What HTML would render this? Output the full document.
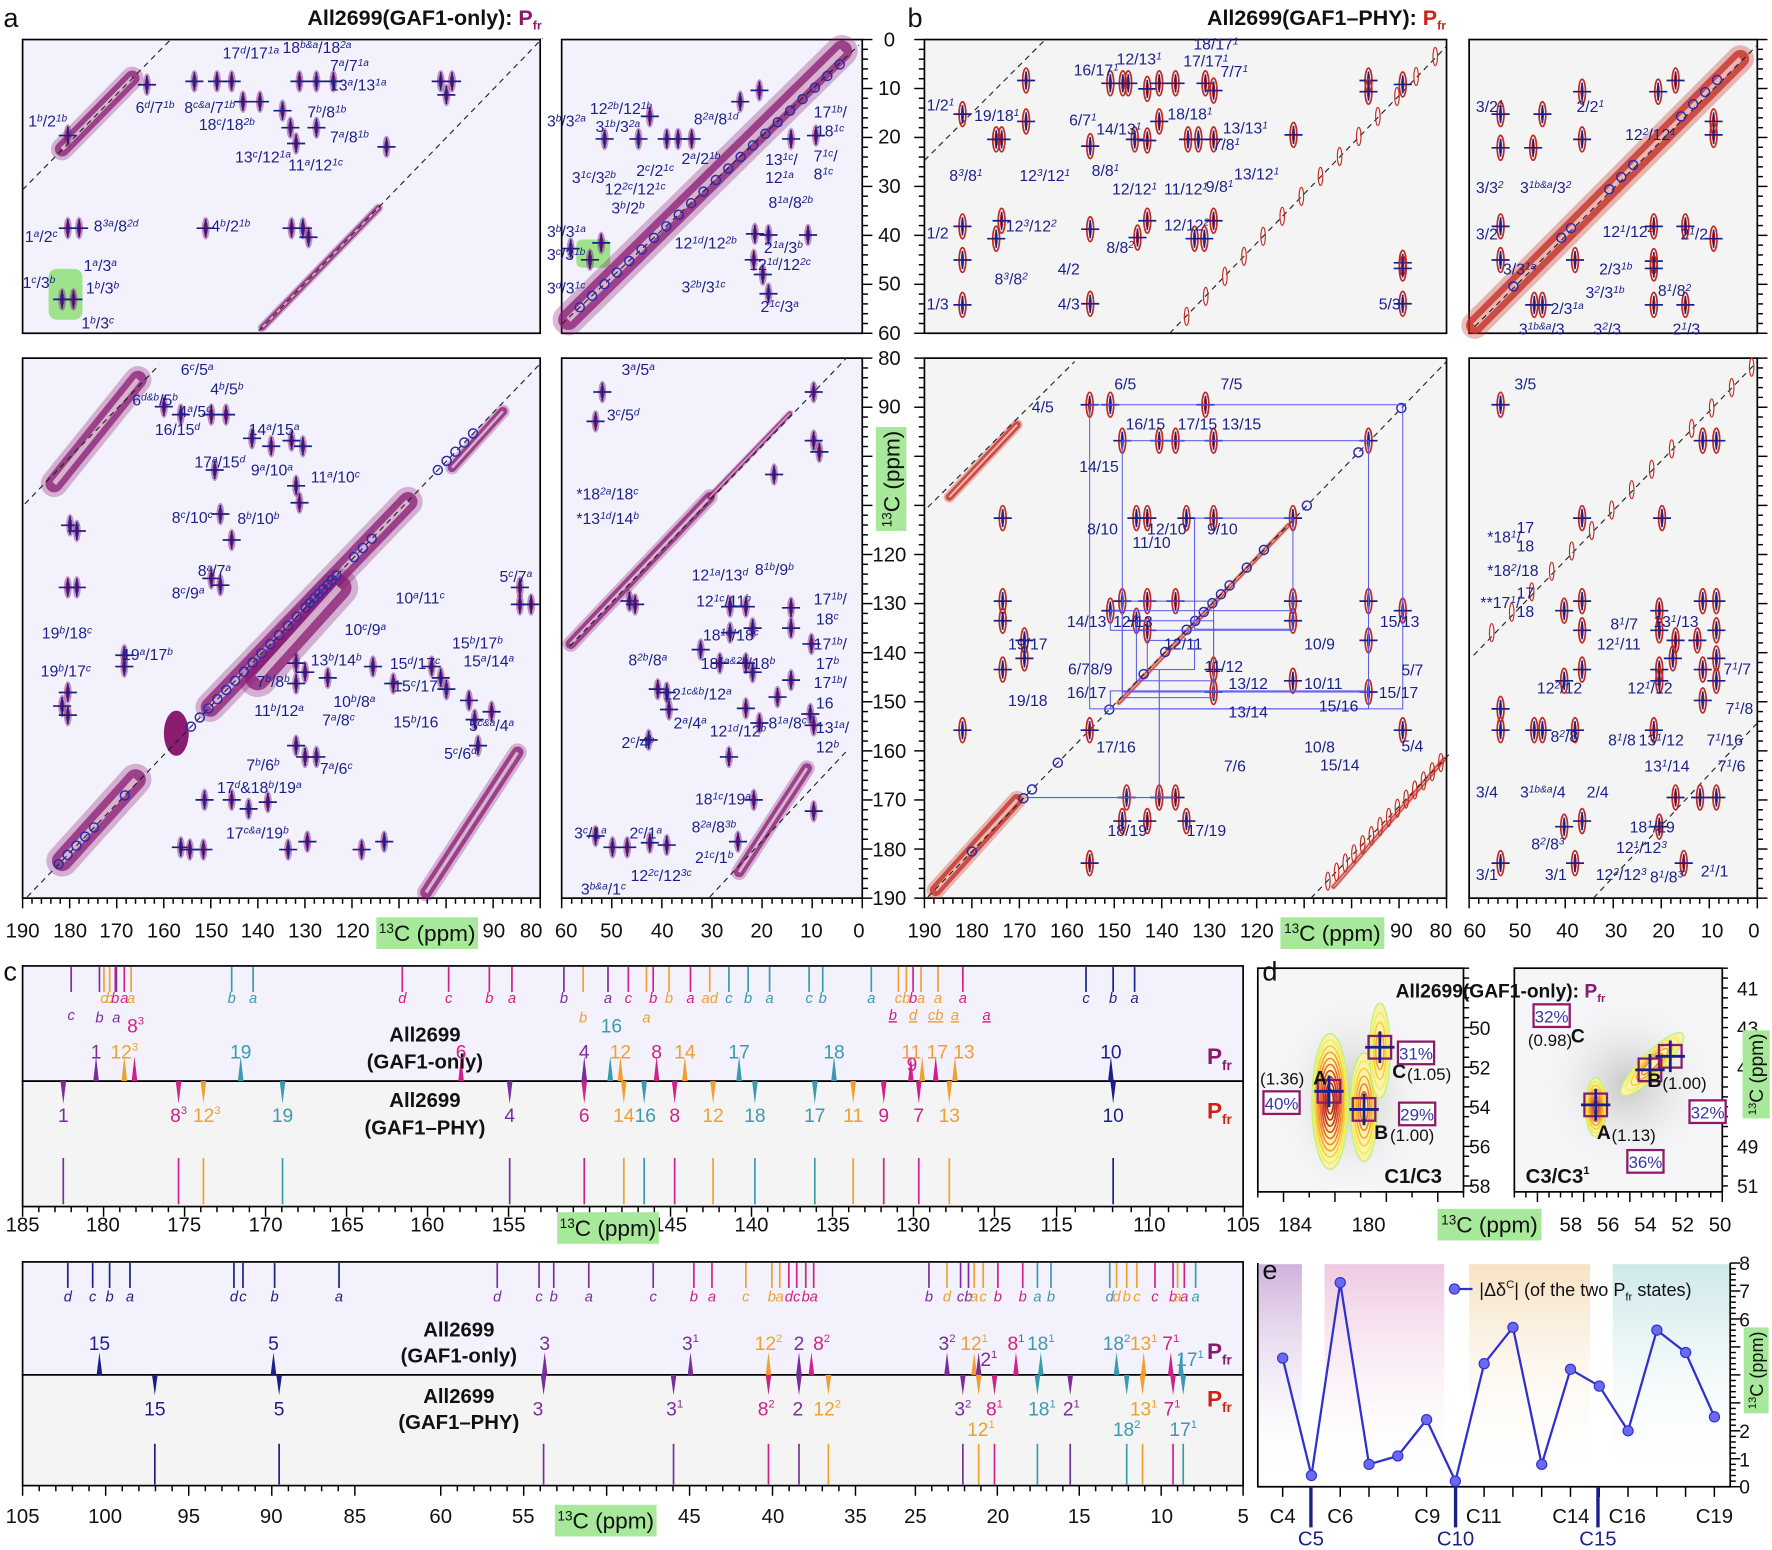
<!DOCTYPE html>
<html><head><meta charset="utf-8">
<style>
html,body{margin:0;padding:0;background:#fff;}
svg{display:block;font-family:"Liberation Sans Narrow","Liberation Sans",sans-serif;}
.l{fill:#1b1f8a;font-size:14px;}
.s{font-size:9px;baseline-shift:super;font-style:italic;}
.t{font-size:18px;fill:#111;}
.b{font-weight:bold;}
.big{font-size:24px;fill:#111;}
</style></head><body>
<svg id="S" width="1772" height="1550" viewBox="0 0 1568 1372" preserveAspectRatio="none" xmlns="http://www.w3.org/2000/svg">
<defs>
<radialGradient id="rg"><stop offset="0" stop-color="#bbb" stop-opacity=".8"/><stop offset="1" stop-color="#f4f4f4" stop-opacity="0"/></radialGradient>
<linearGradient id="ep" x1="0" y1="0" x2="0" y2="1"><stop offset="0" stop-color="#cfb2dc"/><stop offset="1" stop-color="#fff" stop-opacity="0"/></linearGradient>
<linearGradient id="ek" x1="0" y1="0" x2="0" y2="1"><stop offset="0" stop-color="#efc9e2"/><stop offset="1" stop-color="#fff" stop-opacity="0"/></linearGradient>
<linearGradient id="eo" x1="0" y1="0" x2="0" y2="1"><stop offset="0" stop-color="#f7e2c2"/><stop offset="1" stop-color="#fff" stop-opacity="0"/></linearGradient>
<linearGradient id="et" x1="0" y1="0" x2="0" y2="1"><stop offset="0" stop-color="#cde8ea"/><stop offset="1" stop-color="#fff" stop-opacity="0"/></linearGradient>
</defs>
<g stroke="#000" stroke-width="1.5">
<rect x="20" y="35" width="458" height="260" fill="#f3f2fc"/>
<rect x="497" y="35" width="266" height="260" fill="#f3f2fc"/>
<rect x="20" y="317" width="458" height="478" fill="#f3f2fc"/>
<rect x="497" y="317" width="266" height="478" fill="#f3f2fc"/>
<rect x="818" y="35" width="462" height="260" fill="#f4f4f4"/>
<rect x="1300" y="35" width="255" height="260" fill="#f4f4f4"/>
<rect x="818" y="317" width="462" height="478" fill="#f4f4f4"/>
<rect x="1300" y="317" width="255" height="478" fill="#f4f4f4"/>
<rect x="20" y="855" width="1080" height="102" fill="#f3f2fc"/>
<rect x="20" y="957" width="1080" height="111" fill="#f4f4f4"/>
<rect x="20" y="1117" width="1080" height="100" fill="#f3f2fc"/>
<rect x="20" y="1217" width="1080" height="98" fill="#f4f4f4"/>
<rect x="1113" y="857" width="182" height="198" fill="#f6f6f8"/>
<rect x="1340" y="857" width="184" height="198" fill="#f6f6f8"/>
</g>
<rect x="1114" y="1119" width="38" height="197" fill="url(#ep)"/>
<rect x="1172" y="1119" width="106" height="197" fill="url(#ek)"/>
<rect x="1300" y="1119" width="107" height="197" fill="url(#eo)"/>
<rect x="1427" y="1119" width="104" height="197" fill="url(#et)"/>
<path d="M1113 1118 V1316 H1531 V1118" fill="none" stroke="#000" stroke-width="1.5"/>
<ellipse cx="1195" cy="970" rx="70" ry="95" fill="url(#rg)"/>
<ellipse cx="1440" cy="960" rx="80" ry="80" fill="url(#rg)"/>
<rect x="43" y="238" width="30" height="45" rx="7" fill="#9ee28e"/>
<rect x="510" y="212" width="30" height="25" rx="5" fill="#9ee28e"/>
<g id="gen"></g>

<text x="3" y="24" class="big">a</text>
<text x="803" y="24" class="big">b</text>
<text x="272" y="22" font-size="19" class="b" fill="#111">All2699(GAF1-only): <tspan fill="#8b1a6b">P<tspan font-size="11" dy="4">fr</tspan></tspan></text>
<text x="1068" y="22" font-size="19" class="b" fill="#111">All2699(GAF1–PHY): <tspan fill="#d0201a">P<tspan font-size="11" dy="4">fr</tspan></tspan></text>

<g class="t" text-anchor="middle">
<text x="787" y="41">0</text><text x="787" y="84">10</text><text x="787" y="127">20</text><text x="787" y="171">30</text><text x="787" y="214">40</text><text x="787" y="257">50</text><text x="787" y="301">60</text>
<text x="787" y="323">80</text><text x="787" y="366">90</text><text x="787" y="540">130</text><text x="787" y="584">140</text><text x="787" y="627">150</text><text x="787" y="671">160</text><text x="787" y="714">170</text><text x="787" y="758">180</text><text x="787" y="801">190</text>
<text x="787" y="497">120</text>
</g>
<rect x="775" y="378" width="27" height="92" fill="#a8e89a"/>
<text transform="translate(796,424) rotate(-90)" text-anchor="middle" font-size="20" fill="#111"><tspan font-size="12" dy="-7">13</tspan><tspan dy="7">C (ppm)</tspan></text>

<g class="t" text-anchor="middle">
<text x="20" y="830">190</text><text x="62" y="830">180</text><text x="103" y="830">170</text><text x="145" y="830">160</text><text x="187" y="830">150</text><text x="228" y="830">140</text><text x="270" y="830">130</text><text x="312" y="830">120</text><text x="437" y="830">90</text><text x="470" y="830">80</text>
<text x="501" y="830">60</text><text x="541" y="830">50</text><text x="586" y="830">40</text><text x="630" y="830">30</text><text x="674" y="830">20</text><text x="718" y="830">10</text><text x="760" y="830">0</text>
<text x="818" y="830">190</text><text x="860" y="830">180</text><text x="902" y="830">170</text><text x="944" y="830">160</text><text x="986" y="830">150</text><text x="1028" y="830">140</text><text x="1070" y="830">130</text><text x="1112" y="830">120</text><text x="1240" y="830">90</text><text x="1275" y="830">80</text>
<text x="1305" y="830">60</text><text x="1345" y="830">50</text><text x="1387" y="830">40</text><text x="1430" y="830">30</text><text x="1472" y="830">20</text><text x="1515" y="830">10</text><text x="1552" y="830">0</text>
</g>
<rect x="333" y="812" width="90" height="28" fill="#a8e89a"/>
<text x="378" y="833" text-anchor="middle" font-size="20" fill="#111"><tspan font-size="12" dy="-7">13</tspan><tspan dy="7">C (ppm)</tspan></text>
<rect x="1133" y="812" width="92" height="28" fill="#a8e89a"/>
<text x="1179" y="833" text-anchor="middle" font-size="20" fill="#111"><tspan font-size="12" dy="-7">13</tspan><tspan dy="7">C (ppm)</tspan></text>

<g class="l">
<text x="197" y="52">17<tspan class="s">d</tspan>/17<tspan class="s">1a</tspan></text>
<text x="250" y="47">18<tspan class="s">b&amp;a</tspan>/18<tspan class="s">2a</tspan></text>
<text x="292" y="63">7<tspan class="s">a</tspan>/7<tspan class="s">1a</tspan></text>
<text x="292" y="80">13<tspan class="s">a</tspan>/13<tspan class="s">1a</tspan></text>
<text x="120" y="100">6<tspan class="s">d</tspan>/7<tspan class="s">1b</tspan></text>
<text x="163" y="100">8<tspan class="s">c&amp;a</tspan>/7<tspan class="s">1b</tspan></text>
<text x="25" y="112">1<tspan class="s">b</tspan>/2<tspan class="s">1b</tspan></text>
<text x="176" y="115">18<tspan class="s">c</tspan>/18<tspan class="s">2b</tspan></text>
<text x="272" y="104">7<tspan class="s">b</tspan>/8<tspan class="s">1b</tspan></text>
<text x="292" y="126">7<tspan class="s">a</tspan>/8<tspan class="s">1b</tspan></text>
<text x="208" y="144">13<tspan class="s">c</tspan>/12<tspan class="s">1a</tspan></text>
<text x="255" y="151">11<tspan class="s">a</tspan>/12<tspan class="s">1c</tspan></text>
<text x="83" y="205">8<tspan class="s">3a</tspan>/8<tspan class="s">2d</tspan></text>
<text x="187" y="205">4<tspan class="s">b</tspan>/2<tspan class="s">1b</tspan></text>
<text x="22" y="214">1<tspan class="s">a</tspan>/2<tspan class="s">c</tspan></text>
<text x="74" y="240">1<tspan class="s">a</tspan>/3<tspan class="s">a</tspan></text>
<text x="20" y="255">1<tspan class="s">c</tspan>/3<tspan class="s">b</tspan></text>
<text x="76" y="260">1<tspan class="s">b</tspan>/3<tspan class="s">b</tspan></text>
<text x="72" y="291">1<tspan class="s">b</tspan>/3<tspan class="s">c</tspan></text>

<text x="484" y="112">3<tspan class="s">b</tspan>/3<tspan class="s">2a</tspan></text>
<text x="522" y="101">12<tspan class="s">2b</tspan>/12<tspan class="s">1b</tspan></text>
<text x="527" y="117">3<tspan class="s">1b</tspan>/3<tspan class="s">2a</tspan></text>
<text x="614" y="110">8<tspan class="s">2a</tspan>/8<tspan class="s">1d</tspan></text>
<text x="720" y="104">17<tspan class="s">1b</tspan>/</text><text x="722" y="121">18<tspan class="s">1c</tspan></text>
<text x="506" y="162">3<tspan class="s">1c</tspan>/3<tspan class="s">2b</tspan></text>
<text x="563" y="156">2<tspan class="s">c</tspan>/2<tspan class="s">1c</tspan></text>
<text x="603" y="145">2<tspan class="s">a</tspan>/2<tspan class="s">1b</tspan></text>
<text x="677" y="146">13<tspan class="s">1c</tspan>/</text><text x="677" y="162">12<tspan class="s">1a</tspan></text>
<text x="720" y="143">7<tspan class="s">1c</tspan>/</text><text x="720" y="159">8<tspan class="s">1c</tspan></text>
<text x="535" y="172">12<tspan class="s">2c</tspan>/12<tspan class="s">1c</tspan></text>
<text x="541" y="189">3<tspan class="s">b</tspan>/2<tspan class="s">b</tspan></text>
<text x="680" y="184">8<tspan class="s">1a</tspan>/8<tspan class="s">2b</tspan></text>
<text x="484" y="210">3<tspan class="s">b</tspan>/3<tspan class="s">1a</tspan></text>
<text x="484" y="230">3<tspan class="s">c</tspan>/3<tspan class="s">1b</tspan></text>
<text x="676" y="224">2<tspan class="s">1a</tspan>/3<tspan class="s">b</tspan></text>
<text x="597" y="220">12<tspan class="s">1d</tspan>/12<tspan class="s">2b</tspan></text>
<text x="663" y="239">12<tspan class="s">1d</tspan>/12<tspan class="s">2c</tspan></text>
<text x="484" y="260">3<tspan class="s">d</tspan>/3<tspan class="s">1c</tspan></text>
<text x="603" y="259">3<tspan class="s">2b</tspan>/3<tspan class="s">1c</tspan></text>
<text x="673" y="276">2<tspan class="s">1c</tspan>/3<tspan class="s">a</tspan></text>

<text x="160" y="332">6<tspan class="s">c</tspan>/5<tspan class="s">a</tspan></text>
<text x="186" y="349">4<tspan class="s">b</tspan>/5<tspan class="s">b</tspan></text>
<text x="117" y="359">6<tspan class="s">d&amp;b</tspan>/5<tspan class="s">b</tspan></text>
<text x="158" y="369">4<tspan class="s">a</tspan>/5<tspan class="s">d</tspan></text>
<text x="220" y="385">14<tspan class="s">a</tspan>/15<tspan class="s">a</tspan></text>
<text x="137" y="385">16/15<tspan class="s">d</tspan></text>
<text x="172" y="414">17<tspan class="s">a</tspan>/15<tspan class="s">d</tspan></text>
<text x="222" y="421">9<tspan class="s">a</tspan>/10<tspan class="s">a</tspan></text>
<text x="275" y="427">11<tspan class="s">a</tspan>/10<tspan class="s">c</tspan></text>
<text x="152" y="463">8<tspan class="s">c</tspan>/10<tspan class="s">c</tspan></text>
<text x="210" y="464">8<tspan class="s">b</tspan>/10<tspan class="s">b</tspan></text>
<text x="175" y="510">8<tspan class="s">a</tspan>/7<tspan class="s">a</tspan></text>
<text x="152" y="530">8<tspan class="s">c</tspan>/9<tspan class="s">a</tspan></text>
<text x="442" y="515">5<tspan class="s">c</tspan>/7<tspan class="s">a</tspan></text>
<text x="350" y="534">10<tspan class="s">a</tspan>/11<tspan class="s">c</tspan></text>
<text x="305" y="562">10<tspan class="s">c</tspan>/9<tspan class="s">a</tspan></text>
<text x="37" y="565">19<tspan class="s">b</tspan>/18<tspan class="s">c</tspan></text>
<text x="108" y="584">19<tspan class="s">a</tspan>/17<tspan class="s">b</tspan></text>
<text x="36" y="599">19<tspan class="s">b</tspan>/17<tspan class="s">c</tspan></text>
<text x="400" y="574">15<tspan class="s">b</tspan>/17<tspan class="s">b</tspan></text>
<text x="275" y="589">13<tspan class="s">b</tspan>/14<tspan class="s">b</tspan></text>
<text x="345" y="592">15<tspan class="s">d</tspan>/17<tspan class="s">c</tspan></text>
<text x="410" y="590">15<tspan class="s">a</tspan>/14<tspan class="s">a</tspan></text>
<text x="227" y="608">7<tspan class="s">b</tspan>/8<tspan class="s">b</tspan></text>
<text x="348" y="612">15<tspan class="s">c</tspan>/17</text>
<text x="295" y="626">10<tspan class="s">b</tspan>/8<tspan class="s">a</tspan></text>
<text x="225" y="634">11<tspan class="s">b</tspan>/12<tspan class="s">a</tspan></text>
<text x="285" y="642">7<tspan class="s">a</tspan>/8<tspan class="s">c</tspan></text>
<text x="348" y="644">15<tspan class="s">b</tspan>/16</text>
<text x="415" y="647">5<tspan class="s">c&amp;a</tspan>/4<tspan class="s">a</tspan></text>
<text x="393" y="672">5<tspan class="s">c</tspan>/6<tspan class="s">d</tspan></text>
<text x="218" y="682">7<tspan class="s">b</tspan>/6<tspan class="s">b</tspan></text>
<text x="283" y="685">7<tspan class="s">a</tspan>/6<tspan class="s">c</tspan></text>
<text x="192" y="702">17<tspan class="s">d</tspan>&amp;18<tspan class="s">b</tspan>/19<tspan class="s">a</tspan></text>
<text x="200" y="742">17<tspan class="s">c&amp;a</tspan>/19<tspan class="s">b</tspan></text>

<text x="550" y="332">3<tspan class="s">a</tspan>/5<tspan class="s">a</tspan></text>
<text x="537" y="372">3<tspan class="s">c</tspan>/5<tspan class="s">d</tspan></text>
<text x="510" y="442">*18<tspan class="s">2a</tspan>/18<tspan class="s">c</tspan></text>
<text x="510" y="464">*13<tspan class="s">1d</tspan>/14<tspan class="s">b</tspan></text>
<text x="612" y="514">12<tspan class="s">1a</tspan>/13<tspan class="s">d</tspan></text>
<text x="668" y="509">8<tspan class="s">1b</tspan>/9<tspan class="s">b</tspan></text>
<text x="616" y="537">12<tspan class="s">1c</tspan>/11<tspan class="s">b</tspan></text>
<text x="720" y="535">17<tspan class="s">1b</tspan>/</text><text x="722" y="553">18<tspan class="s">c</tspan></text>
<text x="622" y="567">18<tspan class="s">1a</tspan>/18<tspan class="s">c</tspan></text>
<text x="720" y="575">17<tspan class="s">1b</tspan>/</text><text x="722" y="592">17<tspan class="s">b</tspan></text>
<text x="556" y="589">8<tspan class="s">2b</tspan>/8<tspan class="s">a</tspan></text>
<text x="620" y="592">18<tspan class="s">1a&amp;2b</tspan>/18<tspan class="s">b</tspan></text>
<text x="720" y="609">17<tspan class="s">1b</tspan>/</text><text x="722" y="627">16</text>
<text x="587" y="619">12<tspan class="s">1c&amp;b</tspan>/12<tspan class="s">a</tspan></text>
<text x="550" y="662">2<tspan class="s">c</tspan>/4<tspan class="s">b</tspan></text>
<text x="596" y="645">2<tspan class="s">a</tspan>/4<tspan class="s">a</tspan></text>
<text x="628" y="652">12<tspan class="s">1d</tspan>/12<tspan class="s">b</tspan></text>
<text x="680" y="645">8<tspan class="s">1a</tspan>/8<tspan class="s">c</tspan></text>
<text x="722" y="649">13<tspan class="s">1a</tspan>/</text><text x="722" y="666">12<tspan class="s">b</tspan></text>
<text x="615" y="712">18<tspan class="s">1c</tspan>/19<tspan class="s">a</tspan></text>
<text x="508" y="742">3<tspan class="s">c</tspan>/1<tspan class="s">a</tspan></text>
<text x="557" y="742">2<tspan class="s">c</tspan>/1<tspan class="s">a</tspan></text>
<text x="612" y="737">8<tspan class="s">2a</tspan>/8<tspan class="s">3b</tspan></text>
<text x="615" y="764">2<tspan class="s">1c</tspan>/1<tspan class="s">b</tspan></text>
<text x="514" y="792">3<tspan class="s">b&amp;a</tspan>/1<tspan class="s">c</tspan></text>
<text x="558" y="780">12<tspan class="s">2c</tspan>/12<tspan class="s">3c</tspan></text>
</g>

<g class="l">
<text x="1056" y="44">18/17<tspan class="s">1</tspan></text>
<text x="950" y="67">16/17<tspan class="s">1</tspan></text>
<text x="988" y="57">12/13<tspan class="s">1</tspan></text>
<text x="1047" y="59">17/17<tspan class="s">1</tspan></text>
<text x="1080" y="68">7/7<tspan class="s">1</tspan></text>
<text x="820" y="98">1/2<tspan class="s">1</tspan></text>
<text x="946" y="111">6/7<tspan class="s">1</tspan></text>
<text x="970" y="119">14/13<tspan class="s">1</tspan></text>
<text x="862" y="107">19/18<tspan class="s">1</tspan></text>
<text x="1033" y="106">18/18<tspan class="s">1</tspan></text>
<text x="1082" y="118">13/13<tspan class="s">1</tspan></text>
<text x="840" y="160">8<tspan class="s">3</tspan>/8<tspan class="s">1</tspan></text>
<text x="902" y="160">12<tspan class="s">3</tspan>/12<tspan class="s">1</tspan></text>
<text x="1073" y="133">7/8<tspan class="s">1</tspan></text>
<text x="966" y="156">8/8<tspan class="s">1</tspan></text>
<text x="984" y="172">12/12<tspan class="s">1</tspan></text>
<text x="1030" y="172">11/12<tspan class="s">1</tspan></text>
<text x="1067" y="170">9/8<tspan class="s">1</tspan></text>
<text x="1092" y="159">13/12<tspan class="s">1</tspan></text>
<text x="890" y="205">12<tspan class="s">3</tspan>/12<tspan class="s">2</tspan></text>
<text x="1030" y="204">12/12<tspan class="s">2</tspan></text>
<text x="820" y="211">1/2</text>
<text x="979" y="224">8/8<tspan class="s">2</tspan></text>
<text x="880" y="252">8<tspan class="s">3</tspan>/8<tspan class="s">2</tspan></text>
<text x="936" y="243">4/2</text>
<text x="820" y="274">1/3</text>
<text x="936" y="274">4/3</text>
<text x="1220" y="274">5/3</text>

<text x="1306" y="99">3/2<tspan class="s">1</tspan></text>
<text x="1395" y="99">2/2<tspan class="s">1</tspan></text>
<text x="1438" y="124">12<tspan class="s">2</tspan>/12<tspan class="s">1</tspan></text>
<text x="1306" y="171">3/3<tspan class="s">2</tspan></text>
<text x="1345" y="171">3<tspan class="s">1b&amp;a</tspan>/3<tspan class="s">2</tspan></text>
<text x="1306" y="212">3/2</text>
<text x="1418" y="210">12<tspan class="s">1</tspan>/12<tspan class="s">2</tspan></text>
<text x="1487" y="212">2<tspan class="s">1</tspan>/2</text>
<text x="1330" y="243">3/3<tspan class="s">1a</tspan></text>
<text x="1415" y="243">2/3<tspan class="s">1b</tspan></text>
<text x="1467" y="262">8<tspan class="s">1</tspan>/8<tspan class="s">2</tspan></text>
<text x="1403" y="264">3<tspan class="s">2</tspan>/3<tspan class="s">1b</tspan></text>
<text x="1372" y="278">2/3<tspan class="s">1a</tspan></text>
<text x="1344" y="296">3<tspan class="s">1b&amp;a</tspan>/3</text>
<text x="1410" y="296">3<tspan class="s">2</tspan>/3</text>
<text x="1480" y="296">2<tspan class="s">1</tspan>/3</text>

<text x="986" y="345">6/5</text>
<text x="1080" y="345">7/5</text>
<text x="913" y="365">4/5</text>
<text x="996" y="380">16/15</text>
<text x="1042" y="380">17/15</text>
<text x="1081" y="380">13/15</text>
<text x="955" y="418">14/15</text>
<text x="962" y="473">8/10</text>
<text x="1015" y="473">12/10</text>
<text x="1068" y="473">9/10</text>
<text x="1002" y="485">11/10</text>
<text x="944" y="555">14/13</text>
<text x="985" y="555">12/13</text>
<text x="1221" y="555">15/13</text>
<text x="892" y="575">19/17</text>
<text x="945" y="597">6/7</text>
<text x="965" y="597">8/9</text>
<text x="1030" y="575">12/11</text>
<text x="1066" y="595">11/12</text>
<text x="1154" y="575">10/9</text>
<text x="1240" y="598">5/7</text>
<text x="944" y="618">16/17</text>
<text x="1087" y="610">13/12</text>
<text x="1154" y="610">10/11</text>
<text x="1220" y="618">15/17</text>
<text x="892" y="625">19/18</text>
<text x="1087" y="635">13/14</text>
<text x="1167" y="630">15/16</text>
<text x="970" y="666">17/16</text>
<text x="1154" y="666">10/8</text>
<text x="1240" y="665">5/4</text>
<text x="1083" y="683">7/6</text>
<text x="1168" y="682">15/14</text>
<text x="980" y="740">18/19</text>
<text x="1050" y="740">17/19</text>

<text x="1340" y="345">3/5</text>
<text x="1316" y="480">*18<tspan class="s">1</tspan>/</text><text x="1342" y="472">17</text><text x="1342" y="488">18</text>
<text x="1316" y="510">*18<tspan class="s">2</tspan>/18</text>
<text x="1310" y="538">**17<tspan class="s">1</tspan>/</text><text x="1342" y="530">17</text><text x="1342" y="546">18</text>
<text x="1463" y="555">13<tspan class="s">1</tspan>/13</text>
<text x="1425" y="557">8<tspan class="s">1</tspan>/7</text>
<text x="1413" y="575">12<tspan class="s">1</tspan>/11</text>
<text x="1525" y="597">7<tspan class="s">1</tspan>/7</text>
<text x="1360" y="614">12<tspan class="s">2</tspan>/12</text>
<text x="1440" y="614">12<tspan class="s">1</tspan>/12</text>
<text x="1527" y="632">7<tspan class="s">1</tspan>/8</text>
<text x="1372" y="657">8<tspan class="s">2</tspan>/8</text>
<text x="1423" y="660">8<tspan class="s">1</tspan>/8</text>
<text x="1450" y="660">13<tspan class="s">1</tspan>/12</text>
<text x="1510" y="660">7<tspan class="s">1</tspan>/16</text>
<text x="1455" y="683">13<tspan class="s">1</tspan>/14</text>
<text x="1520" y="683">7<tspan class="s">1</tspan>/6</text>
<text x="1306" y="706">3/4</text>
<text x="1345" y="706">3<tspan class="s">1b&amp;a</tspan>/4</text>
<text x="1404" y="706">2/4</text>
<text x="1442" y="737">18<tspan class="s">1</tspan>/19</text>
<text x="1430" y="755">12<tspan class="s">1</tspan>/12<tspan class="s">3</tspan></text>
<text x="1355" y="752">8<tspan class="s">2</tspan>/8<tspan class="s">3</tspan></text>
<text x="1306" y="779">3/1</text>
<text x="1367" y="779">3/1</text>
<text x="1412" y="779">12<tspan class="s">2</tspan>/12<tspan class="s">3</tspan></text>
<text x="1460" y="781">8<tspan class="s">1</tspan>/8<tspan class="s">3</tspan></text>
<text x="1505" y="776">2<tspan class="s">1</tspan>/1</text>
</g>

<text x="3" y="868" class="big">c</text>
<g class="t" text-anchor="middle">
<text x="20" y="1090">185</text><text x="91" y="1090">180</text><text x="163" y="1090">175</text><text x="235" y="1090">170</text><text x="307" y="1090">165</text><text x="378" y="1090">160</text><text x="450" y="1090">155</text><text x="593" y="1090">145</text><text x="665" y="1090">140</text><text x="737" y="1090">135</text><text x="808" y="1090">130</text><text x="880" y="1090">125</text><text x="935" y="1090">115</text><text x="1017" y="1090">110</text><text x="1100" y="1090">105</text>
<text x="20" y="1348">105</text><text x="93" y="1348">100</text><text x="167" y="1348">95</text><text x="240" y="1348">90</text><text x="314" y="1348">85</text><text x="390" y="1348">60</text><text x="463" y="1348">55</text><text x="610" y="1348">45</text><text x="684" y="1348">40</text><text x="757" y="1348">35</text><text x="810" y="1348">25</text><text x="883" y="1348">20</text><text x="955" y="1348">15</text><text x="1028" y="1348">10</text><text x="1100" y="1348">5</text>
</g>
<rect x="493" y="1073" width="90" height="28" fill="#a8e89a"/>
<text x="538" y="1094" text-anchor="middle" font-size="20" fill="#111"><tspan font-size="12" dy="-7">13</tspan><tspan dy="7">C (ppm)</tspan></text>
<rect x="491" y="1332" width="90" height="28" fill="#a8e89a"/>
<text x="536" y="1353" text-anchor="middle" font-size="20" fill="#111"><tspan font-size="12" dy="-7">13</tspan><tspan dy="7">C (ppm)</tspan></text>
<g font-size="18" font-weight="bold" fill="#111" text-anchor="middle">
<text x="376" y="922">All2699</text><text x="376" y="946">(GAF1-only)</text>
<text x="376" y="980">All2699</text><text x="376" y="1004">(GAF1–PHY)</text>
<text x="406" y="1183">All2699</text><text x="406" y="1206">(GAF1-only)</text>
<text x="406" y="1242">All2699</text><text x="406" y="1265">(GAF1–PHY)</text>
</g>
<g font-size="20" font-weight="bold">
<text x="1068" y="942" fill="#8b1a6b">P<tspan font-size="12" dy="5">fr</tspan></text>
<text x="1068" y="990" fill="#d0201a">P<tspan font-size="12" dy="5">fr</tspan></text>
<text x="1068" y="1203" fill="#8b1a6b">P<tspan font-size="12" dy="5">fr</tspan></text>
<text x="1068" y="1245" fill="#d0201a">P<tspan font-size="12" dy="5">fr</tspan></text>
</g>
<g font-size="17" text-anchor="middle">
<text x="85" y="937" fill="#7b2d9b">1</text><text x="110" y="937" fill="#f0a030">12<tspan font-size="10" dy="-7">3</tspan></text><text x="120" y="914" fill="#d0208a">8<tspan font-size="10" dy="-7">3</tspan></text>
<text x="213" y="937" fill="#3a9ab0">19</text><text x="408" y="937" fill="#d0208a">6</text><text x="517" y="937" fill="#7b2d9b">4</text><text x="541" y="914" fill="#3a9ab0">16</text><text x="549" y="937" fill="#f0a030">12</text><text x="581" y="937" fill="#d0208a">8</text><text x="606" y="937" fill="#f0a030">14</text><text x="654" y="937" fill="#3a9ab0">17</text><text x="738" y="937" fill="#3a9ab0">18</text><text x="807" y="948" fill="#d0208a">9</text><text x="830" y="937" fill="#f0a030">11 17 13</text><text x="983" y="937" fill="#1b1f8a">10</text>
<text x="56" y="993" fill="#7b2d9b">1</text><text x="158" y="993" fill="#d0208a">8<tspan font-size="10" dy="-7">3</tspan></text><text x="183" y="993" fill="#f0a030">12<tspan font-size="10" dy="-7">3</tspan></text><text x="250" y="993" fill="#3a9ab0">19</text><text x="451" y="993" fill="#7b2d9b">4</text><text x="517" y="993" fill="#d0208a">6</text><text x="552" y="993" fill="#f0a030">14</text><text x="571" y="993" fill="#3a9ab0">16</text><text x="597" y="993" fill="#d0208a">8</text><text x="631" y="993" fill="#f0a030">12</text><text x="668" y="993" fill="#3a9ab0">18</text><text x="721" y="993" fill="#3a9ab0">17</text><text x="755" y="993" fill="#f0a030">11</text><text x="782" y="993" fill="#d0208a">9</text><text x="813" y="993" fill="#d0208a">7</text><text x="840" y="993" fill="#f0a030">13</text><text x="985" y="993" fill="#1b1f8a">10</text>

<text x="88" y="1195" fill="#1b1f8a">15</text><text x="242" y="1195" fill="#1b1f8a">5</text><text x="482" y="1195" fill="#7b2d9b">3</text><text x="611" y="1195" fill="#7b2d9b">3<tspan font-size="10" dy="-7">1</tspan></text><text x="680" y="1195" fill="#f0a030">12<tspan font-size="10" dy="-7">2</tspan></text><text x="707" y="1195" fill="#7b2d9b">2</text><text x="727" y="1195" fill="#d0208a">8<tspan font-size="10" dy="-7">2</tspan></text><text x="838" y="1195" fill="#7b2d9b">3<tspan font-size="10" dy="-7">2</tspan></text><text x="862" y="1195" fill="#f0a030">12<tspan font-size="10" dy="-7">1</tspan></text><text x="875" y="1209" fill="#7b2d9b">2<tspan font-size="10" dy="-7">1</tspan></text><text x="899" y="1195" fill="#d0208a">8<tspan font-size="10" dy="-7">1</tspan></text><text x="921" y="1195" fill="#3a9ab0">18<tspan font-size="10" dy="-7">1</tspan></text><text x="988" y="1195" fill="#3a9ab0">18<tspan font-size="10" dy="-7">2</tspan></text><text x="1012" y="1195" fill="#f0a030">13<tspan font-size="10" dy="-7">1</tspan></text><text x="1036" y="1195" fill="#d0208a">7<tspan font-size="10" dy="-7">1</tspan></text><text x="1053" y="1209" fill="#3a9ab0">17<tspan font-size="10" dy="-7">1</tspan></text>
<text x="137" y="1253" fill="#1b1f8a">15</text><text x="247" y="1253" fill="#1b1f8a">5</text><text x="476" y="1253" fill="#7b2d9b">3</text><text x="597" y="1253" fill="#7b2d9b">3<tspan font-size="10" dy="-7">1</tspan></text><text x="678" y="1253" fill="#d0208a">8<tspan font-size="10" dy="-7">2</tspan></text><text x="706" y="1253" fill="#7b2d9b">2</text><text x="732" y="1253" fill="#f0a030">12<tspan font-size="10" dy="-7">2</tspan></text><text x="852" y="1253" fill="#7b2d9b">3<tspan font-size="10" dy="-7">2</tspan></text><text x="880" y="1253" fill="#d0208a">8<tspan font-size="10" dy="-7">1</tspan></text><text x="868" y="1271" fill="#f0a030">12<tspan font-size="10" dy="-7">1</tspan></text><text x="922" y="1253" fill="#3a9ab0">18<tspan font-size="10" dy="-7">1</tspan></text><text x="948" y="1253" fill="#7b2d9b">2<tspan font-size="10" dy="-7">1</tspan></text><text x="1012" y="1253" fill="#f0a030">13<tspan font-size="10" dy="-7">1</tspan></text><text x="997" y="1271" fill="#3a9ab0">18<tspan font-size="10" dy="-7">2</tspan></text><text x="1037" y="1253" fill="#d0208a">7<tspan font-size="10" dy="-7">1</tspan></text><text x="1047" y="1271" fill="#3a9ab0">17<tspan font-size="10" dy="-7">1</tspan></text>
</g>
<g id="letters" font-size="13" font-style="italic" text-anchor="middle"></g>

<text x="1117" y="868" class="big">d</text>
<text x="1235" y="883" font-size="17" font-weight="bold" fill="#111">All2699(GAF1-only): <tspan fill="#8b1a6b">P<tspan font-size="10" dy="4">fr</tspan></tspan></text>
<g font-size="15" fill="#111">
<text x="1115" y="960">(1.36)</text><text x="1162" y="960" font-weight="bold" font-size="17">A</text>
<text x="1232" y="954" font-weight="bold" font-size="17">C</text><text x="1245" y="956">(1.05)</text>
<text x="1216" y="1008" font-weight="bold" font-size="17">B</text><text x="1230" y="1010">(1.00)</text>
<text x="1225" y="1047" font-weight="bold" font-size="18">C1/C3</text>
<text x="1352" y="926">(0.98)</text><text x="1390" y="923" font-weight="bold" font-size="17">C</text>
<text x="1458" y="962" font-weight="bold" font-size="17">B</text><text x="1471" y="964">(1.00)</text>
<text x="1413" y="1008" font-weight="bold" font-size="17">A</text><text x="1426" y="1010">(1.13)</text>
<text x="1350" y="1047" font-weight="bold" font-size="18">C3/C3<tspan font-size="10" dy="-8">1</tspan></text>
</g>
<g fill="#fff" stroke="#8b1a6b" stroke-width="2">
<rect x="1118" y="966" width="32" height="20"/><rect x="1237" y="922" width="32" height="20"/><rect x="1238" y="976" width="32" height="20"/>
<rect x="1357" y="889" width="32" height="20"/><rect x="1495" y="974" width="32" height="20"/><rect x="1440" y="1018" width="32" height="20"/>
</g>
<g font-size="15" fill="#3535a8" text-anchor="middle">
<text x="1134" y="982">40%</text><text x="1253" y="938">31%</text><text x="1254" y="992">29%</text>
<text x="1373" y="905">32%</text><text x="1511" y="990">32%</text><text x="1456" y="1034">36%</text>
</g>
<g class="t" font-size="17" text-anchor="middle">
<text x="1146" y="1090">184</text><text x="1211" y="1090">180</text>
<text x="1390" y="1090">58</text><text x="1423" y="1090">56</text><text x="1456" y="1090">54</text><text x="1489" y="1090">52</text><text x="1522" y="1090">50</text>
</g>
<g font-size="17" fill="#111">
<text x="1300" y="916">50</text><text x="1300" y="951">52</text><text x="1300" y="986">54</text><text x="1300" y="1021">56</text><text x="1300" y="1056">58</text>
<text x="1537" y="881">41</text><text x="1537" y="916">43</text><text x="1537" y="951">45</text><text x="1537" y="1021">49</text><text x="1537" y="1056">51</text>
</g>
<rect x="1272" y="1070" width="92" height="28" fill="#a8e89a"/>
<text x="1318" y="1091" text-anchor="middle" font-size="20" fill="#111"><tspan font-size="12" dy="-7">13</tspan><tspan dy="7">C (ppm)</tspan></text>
<rect x="1542" y="912" width="24" height="78" fill="#a8e89a"/>
<text transform="translate(1560,951) rotate(-90)" text-anchor="middle" font-size="17" fill="#111"><tspan font-size="10" dy="-6">13</tspan><tspan dy="6">C (ppm)</tspan></text>

<text x="1117" y="1132" class="big">e</text>
<g font-size="17" fill="#111">
<text x="1539" y="1124">8</text><text x="1539" y="1149">7</text><text x="1539" y="1174">6</text><text x="1539" y="1273">2</text><text x="1539" y="1298">1</text><text x="1539" y="1322">0</text>
</g>
<rect x="1543" y="1175" width="22" height="76" fill="#a8e89a"/>
<text transform="translate(1560,1213) rotate(-90)" text-anchor="middle" font-size="16" fill="#111"><tspan font-size="10" dy="-6">13</tspan><tspan dy="6">C (ppm)</tspan></text>
<g font-size="18" fill="#111" text-anchor="middle">
<text x="1135" y="1348">C4</text><text x="1186" y="1348">C6</text><text x="1263" y="1348">C9</text><text x="1313" y="1348">C11</text><text x="1390" y="1348">C14</text><text x="1440" y="1348">C16</text><text x="1517" y="1348">C19</text>
</g>
<g font-size="18" fill="#1b1f8a" text-anchor="middle">
<text x="1160" y="1368">C5</text><text x="1288" y="1368">C10</text><text x="1414" y="1368">C15</text>
</g>
<g stroke="#1b1f8a" stroke-width="3"><line x1="1160" y1="1316" x2="1160" y2="1352"/><line x1="1288" y1="1316" x2="1288" y2="1352"/><line x1="1414" y1="1316" x2="1414" y2="1352"/></g>
<line x1="1283" y1="1141" x2="1303" y2="1141" stroke="#3030d0" stroke-width="2"/>
<circle cx="1287" cy="1141" r="4.5" fill="#6a6af0" stroke="#3030d0"/>
<text x="1309" y="1147" font-size="16" fill="#111">|Δδ<tspan font-size="10" dy="-7">C</tspan><tspan dy="7">| (of the two P</tspan><tspan font-size="10" dy="4">fr</tspan><tspan dy="-4"> states)</tspan></text>
</svg>
<script>
(function(){
var o=[];
function L(x1,y1,x2,y2,c,w,ex){o.push('<line x1="'+x1+'" y1="'+y1+'" x2="'+x2+'" y2="'+y2+'" stroke="'+c+'" stroke-width="'+w+'" '+(ex||'')+'/>');}
function tickX(px0,px1,v0,v1,y,mn,mj,dir){var a=Math.min(v0,v1),b=Math.max(v0,v1);for(var v=Math.ceil(a/mn-1e-6)*mn;v<=b+1e-6;v+=mn){var x=px0+(v-v0)/(v1-v0)*(px1-px0);var m=Math.abs(v/mj-Math.round(v/mj))<1e-6;L(x,y,x,y+(dir||1)*(m?9:5),'#000',1.3);}}
function tickY(py0,py1,v0,v1,x,mn,mj,dir){for(var v=v0;v<=v1+1e-6;v+=mn){var y=py0+(v-v0)/(v1-v0)*(py1-py0);var m=Math.abs(v/mj-Math.round(v/mj))<1e-6;L(x,y,x+dir*(m?9:5),y,'#000',1.3);}}
tickX(20,478,190,80,795,2,10);tickX(497,763,60,0,795,2,10);
tickX(818,1280,190,80,795,2,10);tickX(1300,1555,60,0,795,2,10);
tickY(35,295,0,60,763,2,10,1);tickY(317,795,80,190,763,2,10,1);
tickY(35,295,0,60,818,2,10,-1);tickY(317,795,80,190,818,2,10,-1);
tickY(35,295,0,60,1555,2,10,1);tickY(317,795,80,190,1555,2,10,1);
tickX(20,880,185,125,1068,1,5);tickX(935,1100,115,105,1068,1,5);
tickX(20,314,105,85,1315,1,5);tickX(390,757,60,35,1315,1,5);tickX(810,1100,25,5,1315,1,5);
tickX(1113,1295,185,177,1055,1,2);tickX(1340,1524,59,50,1055,0.5,2);
tickY(857,1055,47,58.3,1295,0.5,2,1);tickY(857,1055,40.3,51.6,1524,0.5,2,1);
tickY(1118,1316,0,8,1531,0.2,1,1);
tickX(1135,1517,4,19,1316,1,1);
var P='#8a1c72',R='#c4281e';
function band(x1,y1,x2,y2,c,w){L(x1,y1,x2,y2,c,w,'stroke-linecap="round" opacity="0.3"');L(x1,y1,x2,y2,c,w*0.65,'stroke-linecap="round" opacity="0.75"');L(x1,y1,x2,y2,'#fff',w*0.18,'opacity="0.6"');}
function dash(x1,y1,x2,y2){L(x1,y1,x2,y2,'#222',1,'stroke-dasharray="5,4"');}
// panel a bands
band(55,132,117,69,P,20);band(232,290,335,184,P,8);band(503,283,745,45,P,28);
band(48,428,122,336,P,24);band(186,626,361,444,P,26);band(228,600,300,520,P,34);band(400,414,445,364,P,12);
band(55,762,120,690,P,28);o.push('<ellipse cx="156" cy="649" rx="11" ry="20" fill="'+P+'"/>');
band(377,790,458,666,P,16);band(505,570,628,440,P,14);band(628,440,699,366,P,6);band(654,772,714,680,P,14);
// panel b bands
band(1305,288,1540,52,R,24);band(828,788,900,708,R,16);band(840,440,900,376,R,10);band(1180,785,1278,672,R,5);
band(990,622,1140,465,R,5);
dash(20,168,152,34);dash(229,293,480,34);dash(497,287,760,40);dash(22,446,141,323);dash(24,794,478,322);dash(504,572,749,317);dash(628,794,749,665);
dash(818,142,925,35);dash(1035,295,1280,41);dash(1305,289,1555,40);dash(821,449,951,320);dash(821,794,1280,320);dash(1160,795,1283,667);dash(1304,580,1555,320);dash(1410,795,1555,640);
for(var i=0;i<14;i++){var t=i/13;o.push('<ellipse cx="'+(1050+t*220)+'" cy="'+(280-t*230)+'" rx="2" ry="8" fill="none" stroke="'+R+'"/>');o.push('<ellipse cx="'+(1320+t*230)+'" cy="'+(560-t*235)+'" rx="2" ry="8" fill="none" stroke="'+R+'"/>');o.push('<ellipse cx="'+(1175+t*100)+'" cy="'+(780-t*105)+'" rx="2" ry="8" fill="none" stroke="'+R+'"/>');}
function circ(x,y){o.push('<circle cx="'+x+'" cy="'+y+'" r="4" fill="none" stroke="#2a2ab0" stroke-width="1.3"/>');}
for(var i=0;i<22;i++){var t=i/21;circ(513+t*230,272-t*215);}
[0,0.02,0.04,0.06,0.08,0.15,0.3,0.32,0.34,0.36,0.38,0.4,0.42,0.44,0.46,0.48,0.5,0.52,0.54,0.56,0.57,0.58,0.59,0.6,0.61,0.62,0.63,0.67,0.69,0.71,0.86,0.88,0.9,0.92,0.94].forEach(function(t){var x=52+t*390;circ(x,794-(x-24)*1.04);});
[0,0.12,0.14,0.2,0.32,0.4,0.45,0.5,0.52,0.54,0.56,0.58,0.6,0.64,0.68,0.78,0.9,1].forEach(function(t){var x=860+t*380;circ(x,794-(x-821)*1.033);});
[0.1,0.3,0.34,0.5,0.55,0.6,0.8,0.85,0.9,0.95].forEach(function(t){circ(1318+t*212,275-t*215);});
function cr(x,y,c,h){o.push('<ellipse cx="'+x+'" cy="'+y+'" rx="3.5" ry="'+h+'" fill="'+c+'" opacity="0.45"/>');o.push('<ellipse cx="'+x+'" cy="'+y+'" rx="2" ry="'+(h*0.6)+'" fill="'+c+'"/>');L(x-8,y,x+8,y,'#1b1f8a',1.5);L(x,y-8,x,y+8,'#1b1f8a',1.5);}
var A=[[60,120],[130,75],[172,72],[192,72],[205,72],[215,90],[230,90],[250,98],[265,72],[280,72],[295,72],[257,113],[262,127],[280,113],[342,130],[390,72],[400,72],[395,84],[60,202],[70,202],[182,202],[258,202],[268,202],[273,210],[55,265],[65,265],
[535,123],[565,123],[575,103],[590,123],[600,123],[612,123],[655,90],[672,80],[700,123],[722,120],[505,220],[532,215],[522,230],[668,207],[680,208],[715,208],[667,230],[675,243],[680,260],
[145,360],[160,367],[187,367],[200,367],[223,388],[240,395],[258,390],[268,395],[190,416],[262,430],[265,445],[195,455],[205,478],[187,512],[195,518],[62,465],[68,470],[60,520],[68,520],[110,580],[110,590],[55,625],[60,613],[60,633],[262,587],[270,595],[262,605],[290,600],[330,590],[348,605],[382,590],[390,600],[395,610],[415,620],[420,637],[435,630],[262,660],[270,670],[280,670],[460,520],[460,535],[470,535],[423,660],[181,708],[205,708],[220,716],[237,710],[160,750],[168,752],[180,752],[255,752],[272,745],[320,752],[340,745],
[533,347],[527,373],[720,347],[720,390],[725,400],[685,420],[557,532],[562,535],[646,537],[660,537],[700,538],[646,560],[666,556],[700,556],[718,570],[620,575],[637,587],[660,587],[582,610],[590,613],[666,595],[700,602],[688,617],[717,632],[574,655],[592,628],[660,627],[672,640],[720,642],[645,670],[667,708],[720,718],[527,740],[542,750],[555,750],[575,746],[590,748],[653,745]];
A.forEach(function(p){cr(p[0],p[1],P,10);});
function bz(zx,zy){return [(920+zx/1.84)/1.13,(30+zy/1.782)/1.13];}
var B=[[78,150],[195,90],[195,163],[140,195],[150,195],[313,207],[350,95],[373,95],[383,95],[418,105],[440,95],[470,95],[525,95],[540,108],[440,163],[395,195],[418,197],[493,195],[512,195],[540,195],[687,187],[825,90],[888,97],[825,110],[78,350],[78,410],[150,340],[140,372],[313,355],[400,370],[418,340],[505,372],[540,340],[523,372],[78,490],[313,488],[888,415],[888,425],[888,488],
[1068,150],[1068,210],[1128,210],[1145,150],[1218,110],[1218,195],[1358,110],[1390,90],[1460,163],[1460,187],[1068,350],[1068,410],[1205,410],[1350,350],[1408,350],[1460,372],[1350,412],[1350,425],[1130,490],[1145,490],[1350,490],[1408,490],
[312,668],[350,668],[525,668],[372,732],[440,732],[470,732],[540,732],[825,732],[152,870],[398,870],[418,870],[490,870],[540,870],[686,870],[152,1018],[152,1053],[152,1140],[192,1088],[192,1120],[350,1035],[372,1018],[418,1018],[470,1018],[686,1018],[686,1053],[825,1018],[888,1035],[825,1088],[398,1053],[418,1070],[540,1140],[686,1160],[825,1180],[540,1180],[888,1248],[78,1248],[312,1248],[380,1368],[440,1368],[470,1368],[372,1410],[418,1410],[490,1410],[312,1485],
[1068,668],[1440,732],[1465,732],[1218,870],[1365,870],[1185,1035],[1218,1018],[1218,1070],[1360,1035],[1360,1070],[1440,1018],[1465,1018],[1465,1070],[1390,1088],[1430,1088],[1218,1140],[1360,1140],[1385,1120],[1440,1140],[1465,1120],[1360,1160],[1440,1195],[1465,1160],[1185,1160],[1068,1210],[1068,1248],[1130,1248],[1145,1248],[1205,1248],[1350,1248],[1390,1368],[1435,1368],[1465,1368],[1185,1420],[1218,1410],[1360,1420],[1068,1485],[1205,1485],[1405,1485]];
B.forEach(function(p){var q=bz(p[0],p[1]);o.push('<ellipse cx="'+q[0]+'" cy="'+q[1]+'" rx="3" ry="11" fill="none" stroke="'+R+'" stroke-width="1.5"/>');o.push('<ellipse cx="'+q[0]+'" cy="'+q[1]+'" rx="1.5" ry="7" fill="'+R+'"/>');L(q[0]-8,q[1],q[0]+8,q[1],'#1b1f8a',1.5);L(q[0],q[1]-8,q[0],q[1]+8,'#1b1f8a',1.5);});
var BX=[[312,668,888,1210],[372,732,825,1180],[505,870,686,1068],[350,1035,686,1070],[372,1018,540,1190],[398,1053,540,1160],[418,1088,505,1140],[350,1178,825,1210],[440,1140,440,1368],[195,1368,470,1368]];
BX.forEach(function(b){var p=bz(b[0],b[1]),q=bz(b[2],b[3]);o.push('<rect x="'+p[0]+'" y="'+p[1]+'" width="'+Math.max(q[0]-p[0],0.1)+'" height="'+Math.max(q[1]-p[1],0.1)+'" fill="none" stroke="#5a5ae8" stroke-width="0.9"/>');});
var PU='#7b2d9b',OR='#f0a030',MG='#d0208a',TE='#3a9ab0',NV='#1b1f8a';
var top1=[[63,PU,'c',903],[92,OR,'c',888],[97,OR,'b',888],[102,MG,'b',888],[110,MG,'a',888],[116,OR,'a',888],[88,PU,'b',905],[103,PU,'a',905],[205,TE,'b',888],[224,TE,'a',888],[356,MG,'d',888],[397,MG,'c',888],[433,MG,'b',888],[453,MG,'a',888],[499,PU,'b',888],[516,OR,'b',905],[538,PU,'a',888],[556,MG,'c',888],[572,OR,'a',905],[578,MG,'b',888],[592,OR,'b',888],[611,MG,'a',888],[628,OR,'ad',888],[645,TE,'c',888],[662,TE,'b',888],[681,TE,'a',888],[716,TE,'c',888],[728,TE,'b',888],[771,TE,'a',888],[795,OR,'c',888],[802,OR,'b',888],[808,MG,'b',888],[815,OR,'a',888],[830,OR,'a',888],[852,MG,'a',888],[961,NV,'c',888],[985,NV,'b',888],[1004,NV,'a',888]];
var lt=[];
top1.forEach(function(s){L(s[0],856,s[0],878,s[1],1.5);lt.push('<text x="'+s[0]+'" y="'+s[3]+'" fill="'+s[1]+'">'+s[2]+'</text>');});
[[790,MG,'b'],[808,OR,'d'],[828,OR,'cb'],[845,OR,'a'],[873,MG,'a']].forEach(function(s){lt.push('<text x="'+s[0]+'" y="903" fill="'+s[1]+'" text-decoration="underline">'+s[2]+'</text>');});
function tri(x,y,d,c){o.push('<path d="M'+(x-2.5)+' '+y+' L'+(x+2.5)+' '+y+' L'+x+' '+(y-d)+'Z" fill="'+c+'"/>');}
[[85,PU],[110,OR],[119,MG],[213,TE],[408,MG],[517,PU],[540,TE],[549,OR],[581,MG],[606,OR],[654,TE],[738,TE],[806,MG],[816,OR],[828,MG],[845,OR],[983,NV]].forEach(function(s){tri(s[0],957,22,s[1]);});
var bot1=[[56,PU],[158,MG],[180,OR],[250,TE],[451,PU],[517,MG],[552,OR],[570,TE],[597,MG],[631,OR],[668,TE],[721,TE],[755,OR],[782,MG],[813,MG],[840,OR],[985,NV]];
bot1.forEach(function(s){tri(s[0],957,-20,s[1]);L(s[0],1025,s[0],1066,s[1],1.5);});
var top2=[[60,NV,'d'],[82,NV,'c'],[97,NV,'b'],[115,NV,'a'],[207,NV,'d'],[215,NV,'c'],[243,NV,'b'],[300,NV,'a'],[440,PU,'d'],[477,PU,'c'],[490,PU,'b'],[521,PU,'a'],[578,PU,'c'],[614,MG,'b'],[630,MG,'a'],[660,OR,'c'],[683,OR,'b'],[690,OR,'a'],[698,MG,'d'],[705,MG,'c'],[713,MG,'b'],[720,MG,'a'],[822,PU,'b'],[838,OR,'d'],[850,PU,'c'],[857,PU,'b'],[862,OR,'a'],[870,OR,'c'],[883,MG,'b'],[905,MG,'b'],[918,TE,'a'],[930,TE,'b'],[982,TE,'d'],[988,OR,'d'],[997,OR,'b'],[1006,OR,'c'],[1022,MG,'c'],[1038,MG,'b'],[1042,OR,'a'],[1048,MG,'a'],[1058,TE,'a']];
top2.forEach(function(s){L(s[0],1118,s[0],1140,s[1],1.5);lt.push('<text x="'+s[0]+'" y="1152" fill="'+s[1]+'">'+s[2]+'</text>');});
[[88,NV],[242,NV],[482,PU],[611,PU],[680,OR],[707,PU],[718,MG],[838,PU],[862,OR],[866,PU],[899,MG],[921,TE],[988,TE],[1012,OR],[1036,MG],[1045,TE]].forEach(function(s){tri(s[0],1217,20,s[1]);});
var bot2=[[137,NV],[247,NV],[481,PU],[596,PU],[680,MG],[707,PU],[733,OR],[852,PU],[866,OR],[880,MG],[918,TE],[947,PU],[997,TE],[1011,OR],[1038,MG],[1047,TE]];
bot2.forEach(function(s){tri(s[0],1217,-18,s[1]);L(s[0],1278,s[0],1314,s[1],1.5);});
var cols=['#c8f080','#eef050','#f8d030','#f5a830','#f08830','#e86830','#d84830','#c83030','#b82828','#a82020'];
function pk(x,y,rx,ry,n,rot){for(var i=0;i<n;i++){var f=1-i/(n+1);o.push('<ellipse cx="'+x+'" cy="'+y+'" rx="'+(rx*f)+'" ry="'+(ry*f)+'" fill="'+(i==0?'#fbf2b0':'none')+'" stroke="'+cols[Math.min(i,9)]+'" stroke-width="1.4" transform="rotate('+(rot||0)+' '+x+' '+y+')"/>');}}
pk(1177,975,16,60,10);pk(1207,980,12,48,6);pk(1221,930,9,42,4);
pk(1412,980,9,26,7);pk(1462,942,10,38,5,45);
function bx(x,y){o.push('<rect x="'+(x-10)+'" y="'+(y-10)+'" width="20" height="20" fill="none" stroke="#8b1a6b" stroke-width="2"/>');L(x-13,y,x+13,y,'#1b1f8a',2.5);L(x,y-14,x,y+14,'#1b1f8a',2.5);}
bx(1176,966);bx(1207,982);bx(1221,927);bx(1412,978);bx(1460,947);bx(1478,935);
var v=[4.6,0.4,7.3,0.8,1.1,2.4,0.2,4.4,5.7,0.8,4.2,3.6,2.0,5.6,4.8,2.5],pts=[];
v.forEach(function(a,i){pts.push((1135+i*25.47)+','+(1316-a*24.75));});
o.push('<polyline points="'+pts.join(' ')+'" fill="none" stroke="#3030d0" stroke-width="2"/>');
v.forEach(function(a,i){o.push('<circle cx="'+(1135+i*25.47)+'" cy="'+(1316-a*24.75)+'" r="4.5" fill="#6a6af0" stroke="#3030d0"/>');});
var NS='http://www.w3.org/2000/svg';
function put(id,html){var g=document.getElementById(id);var tmp=new DOMParser().parseFromString('<svg xmlns="'+NS+'">'+html+'</svg>','image/svg+xml').documentElement;while(tmp.firstChild){g.appendChild(document.importNode(tmp.firstChild,true));tmp.removeChild(tmp.firstChild);}}
put('gen',o.join(''));
put('letters',lt.join(''));
})();
</script>
</body></html>
